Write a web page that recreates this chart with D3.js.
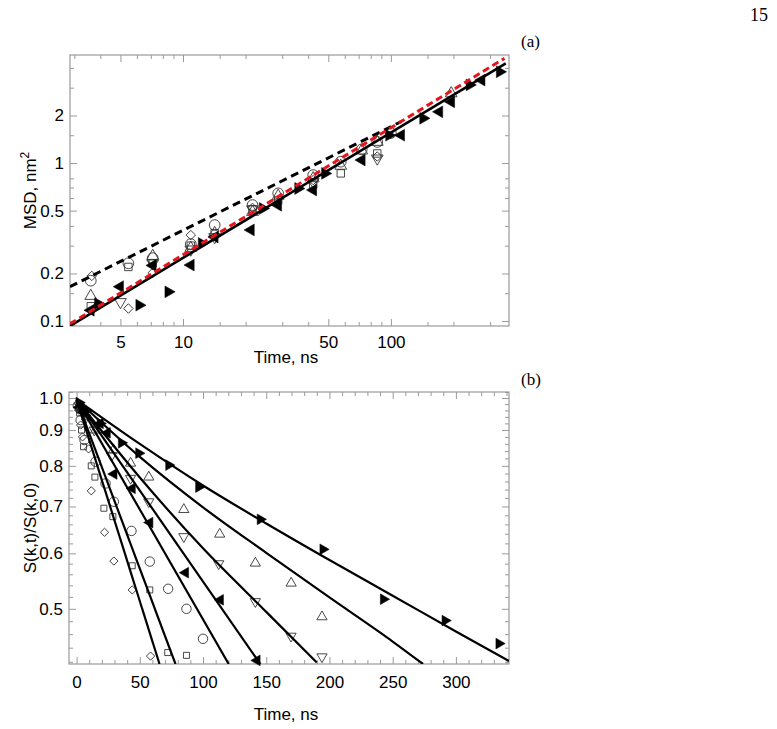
<!DOCTYPE html>
<html>
<head>
<meta charset="utf-8">
<script src="https://cdn.jsdelivr.net/npm/d3@7"></script>
<style>
  body { margin: 0; background: #fff; }
  text { font-family: Arial, "Liberation Sans", Helvetica, sans-serif; }
  .serif { font-family: "Liberation Serif", "DejaVu Serif", serif; }
</style>
</head>
<body>
<div id="chart"></div>
<script>
// ---------- panel (a): MSD vs time (log-log) ----------
const msdCircle = [[3.6, 0.18], [5.46, 0.232], [7.15, 0.25], [10.9, 0.307], [14.2, 0.405], [21.6, 0.542], [28.7, 0.643], [42.3, 0.839], [57.4, 1.02], [72.4, 1.22], [86, 1.36], [100, 1.55]]
const msdUp = [[3.6, 0.144], [7.15, 0.258], [10.9, 0.29], [14.2, 0.36], [21.6, 0.49], [28.7, 0.62], [42.3, 0.8], [57.4, 0.96], [72.4, 1.2], [86, 1.36], [195, 2.76]]
const msdDown = [[5, 0.132], [7.15, 0.232], [10.9, 0.284], [14.2, 0.34], [21.6, 0.51], [42.3, 0.76], [86, 1.07]]
const msdSquare = [[3.6, 0.124], [5.46, 0.22], [7.15, 0.232], [10.9, 0.3], [14.2, 0.36], [21.6, 0.51], [28.7, 0.58], [42.3, 0.73], [57.4, 0.86], [86, 1.15]]
const msdDiamond = [[3.64, 0.193], [5.46, 0.12], [7.15, 0.202], [10.9, 0.35], [21.6, 0.52], [42.3, 0.78], [86, 1.1]]
const msdLeft = [[3.6, 0.117], [4.98, 0.165], [7.15, 0.225], [10.9, 0.226], [14.2, 0.34], [21.2, 0.377], [28.7, 0.54], [42.3, 0.675], [72.4, 1.045], [112, 1.5], [171, 2.11], [195, 2.44], [273, 3.35]]
const msdRight = [[3.9, 0.129], [6.16, 0.126], [8.5, 0.153], [12.3, 0.31], [24.2, 0.516], [35.8, 0.69], [48.2, 0.86], [98, 1.5], [143, 1.92], [239, 3.12], [334, 3.78]]

// fitted lines, end points
const msdFitShort = [[2.86, 0.165], [112, 1.83]]
const msdFitLong = [[2.86, 0.093], [357, 4.28]]
const msdFitRed = [[2.86, 0.096], [352, 4.6]]

const msdXTicks = [3, 4, 5, 6, 7, 8, 9, 10, 15, 20, 30, 40, 50, 60, 70, 80, 90, 100, 150, 200, 300]
const msdXLabels = [5, 10, 50, 100]
const msdYTicks = [0.1, 0.15, 0.2, 0.3, 0.4, 0.5, 0.6, 0.7, 0.8, 1, 1.5, 2, 3, 4]
const msdYLabels = [0.1, 0.2, 0.5, 1, 2]

// ---------- panel (b): S(k,t)/S(k,0) vs time (log y) ----------
const skDiamond = [[1.6, 0.961], [3.2, 0.915], [4.7, 0.88], [9.5, 0.846], [11.6, 0.737], [22.1, 0.643], [29.5, 0.585], [44, 0.532], [58.5, 0.428]]
const skSquare = [[1.5, 0.97], [2.4, 0.952], [3.9, 0.9], [5.5, 0.852], [11.6, 0.8], [14.5, 0.771], [21.6, 0.696], [28.7, 0.677], [44, 0.576], [57.9, 0.532], [72.1, 0.433], [86.9, 0.429]]
const skCircle = [[1, 0.975], [3.2, 0.93], [6.3, 0.871], [15, 0.811], [22.9, 0.755], [29.5, 0.711], [43.4, 0.646], [57.9, 0.584], [72.4, 0.534], [86.9, 0.5], [100, 0.453]]
const skLeft = [[2, 0.97], [4.7, 0.955], [18.7, 0.92], [24.2, 0.892], [29.5, 0.779], [44, 0.743], [57.9, 0.664], [86.1, 0.563], [113.7, 0.515], [142.7, 0.422]]
const skDown = [[2, 0.975], [7.1, 0.936], [14, 0.9], [27.6, 0.827], [42.7, 0.768], [57.1, 0.711], [84.8, 0.634], [112.4, 0.58], [141.4, 0.512], [169.6, 0.457], [194.1, 0.427]]
const skUp = [[3, 0.97], [8, 0.94], [15, 0.9], [29.2, 0.843], [42.7, 0.807], [57.1, 0.771], [84.8, 0.693], [113.2, 0.639], [141.4, 0.581], [169.7, 0.544], [194.1, 0.487]]
const skRight = [[2, 0.985], [8, 0.96], [18.7, 0.92], [35.5, 0.863], [49.2, 0.834], [72.9, 0.802], [96.6, 0.746], [145.3, 0.671], [194.9, 0.608], [242.7, 0.516], [291.5, 0.481], [334.1, 0.446]]

const skFits = [
  [[0, 0.995], [65.6, 0.417]],
  [[0, 0.995], [78.2, 0.417]],
  [[0, 0.995], [120.3, 0.417]],
  [[0, 0.995], [145.3, 0.417]],
  [[0, 0.995], [50, 0.77], [100, 0.61], [150, 0.495], [190, 0.419]],
  [[0, 0.995], [50, 0.824], [100, 0.698], [150, 0.601], [200, 0.519], [250, 0.449], [274, 0.417]],
  [[0, 0.995], [50, 0.86], [100, 0.75], [150, 0.662], [200, 0.587], [250, 0.522], [300, 0.464], [342, 0.421]]
]

const skXTicks = d3.range(0, 341, 10)
const skXLabels = [0, 50, 100, 150, 200, 250, 300]
const skYTicks = d3.range(42, 103, 2).map(d => d / 100)
const skYLabels = [0.5, 0.6, 0.7, 0.8, 0.9, 1.0]

// ---------- drawing ----------
const svg = d3.select('#chart').append('svg')
  .attr('width', 777)
  .attr('height', 729)

const frameColor = '#9a9a9a'

const markers = {
  circle: { type: d3.symbolCircle, rot: 0, fill: 'none' },
  up: { type: d3.symbolTriangle, rot: 0, fill: 'none' },
  down: { type: d3.symbolTriangle, rot: 180, fill: 'none' },
  square: { type: d3.symbolSquare, rot: 0, fill: 'none' },
  diamond: { type: d3.symbolSquare, rot: 45, fill: 'none' },
  left: { type: d3.symbolTriangle, rot: -90, fill: '#000' },
  right: { type: d3.symbolTriangle, rot: 90, fill: '#000' }
}

function drawFrame (g, x, y, box, o) {
  const minorLen = 4
  const majorLen = 7
  const isMajorX = d => o.xLabels.includes(d)
  const isMajorY = d => o.yLabels.some(v => Math.abs(v - d) < 1e-9)

  // bottom / top
  g.append('g').attr('transform', 'translate(0,' + box.bottom + ')')
    .call(d3.axisBottom(x).tickValues(o.xTicks.filter(d => !isMajorX(d))).tickSize(-minorLen).tickFormat(''))
  g.append('g').attr('transform', 'translate(0,' + box.bottom + ')')
    .call(d3.axisBottom(x).tickValues(o.xLabels).tickSize(-majorLen).tickPadding(o.xPad).tickFormat(o.xFormat))
  g.append('g').attr('transform', 'translate(0,' + box.top + ')')
    .call(d3.axisTop(x).tickValues(o.xTicks.filter(d => !isMajorX(d))).tickSize(-minorLen).tickFormat(''))
  g.append('g').attr('transform', 'translate(0,' + box.top + ')')
    .call(d3.axisTop(x).tickValues(o.xLabels).tickSize(-majorLen).tickFormat(''))

  // left / right
  g.append('g').attr('transform', 'translate(' + box.left + ',0)')
    .call(d3.axisLeft(y).tickValues(o.yTicks.filter(d => !isMajorY(d))).tickSize(-minorLen).tickFormat(''))
  g.append('g').attr('transform', 'translate(' + box.left + ',0)')
    .call(d3.axisLeft(y).tickValues(o.yLabels).tickSize(-majorLen).tickPadding(o.yPad).tickFormat(o.yFormat))
  g.append('g').attr('transform', 'translate(' + box.right + ',0)')
    .call(d3.axisRight(y).tickValues(o.yTicks.filter(d => !isMajorY(d))).tickSize(-minorLen).tickFormat(''))
  g.append('g').attr('transform', 'translate(' + box.right + ',0)')
    .call(d3.axisRight(y).tickValues(o.yLabels).tickSize(-majorLen).tickFormat(''))

  g.selectAll('.domain').remove()
  g.selectAll('.tick line').attr('stroke', frameColor).attr('stroke-width', 1)
  g.selectAll('.tick text')
    .attr('fill', '#000')
    .style('font-size', '17px')
    .style('font-family', 'Arial, "Liberation Sans", sans-serif')

  g.append('rect')
    .attr('x', box.left)
    .attr('y', box.top)
    .attr('width', box.right - box.left)
    .attr('height', box.bottom - box.top)
    .attr('fill', 'none')
    .attr('stroke', frameColor)
    .attr('stroke-width', 1.2)
}

function drawPoints (g, x, y, data, kind, size) {
  const m = markers[kind]
  g.append('g').selectAll('path')
    .data(data)
    .enter().append('path')
    .attr('d', d3.symbol().type(m.type).size(size))
    .attr('transform', d => 'translate(' + x(d[0]) + ',' + y(d[1]) + ') rotate(' + m.rot + ')')
    .attr('fill', m.fill)
    .attr('stroke', m.fill === 'none' ? '#333' : '#000')
    .attr('stroke-width', m.fill === 'none' ? 0.9 : 0.5)
}

// ----- panel (a)
const boxA = { left: 70, right: 509, top: 55, bottom: 326 }
const xA = d3.scaleLog().domain([2.86, 370]).range([boxA.left, boxA.right])
const yA = d3.scaleLog().domain([0.093, 4.83]).range([boxA.bottom, boxA.top])
const gA = svg.append('g')

svg.append('clipPath').attr('id', 'clipA').append('rect')
  .attr('x', boxA.left).attr('y', boxA.top)
  .attr('width', boxA.right - boxA.left).attr('height', boxA.bottom - boxA.top)

drawFrame(gA, xA, yA, boxA, {
  xTicks: msdXTicks,
  xLabels: msdXLabels,
  yTicks: msdYTicks,
  yLabels: msdYLabels,
  xPad: 10,
  yPad: 6,
  xFormat: d3.format('d'),
  yFormat: d => String(d)
})

const sizeA = { circle: 90, up: 60, down: 60, square: 55, diamond: 45, left: 60, right: 60 }
drawPoints(gA, xA, yA, msdCircle, 'circle', sizeA.circle)
drawPoints(gA, xA, yA, msdUp, 'up', sizeA.up)
drawPoints(gA, xA, yA, msdDown, 'down', sizeA.down)
drawPoints(gA, xA, yA, msdSquare, 'square', sizeA.square)
drawPoints(gA, xA, yA, msdDiamond, 'diamond', sizeA.diamond)
drawPoints(gA, xA, yA, msdLeft, 'left', sizeA.left)
drawPoints(gA, xA, yA, msdRight, 'right', sizeA.right)

const lineA = d3.line().x(d => xA(d[0])).y(d => yA(d[1]))
const linesA = gA.append('g').attr('clip-path', 'url(#clipA)')
linesA.append('path').attr('d', lineA(msdFitLong))
  .attr('fill', 'none').attr('stroke', '#000').attr('stroke-width', 2.6)
linesA.append('path').attr('d', lineA(msdFitShort))
  .attr('fill', 'none').attr('stroke', '#000').attr('stroke-width', 3).attr('stroke-dasharray', '8,5')
linesA.append('path').attr('d', lineA(msdFitRed))
  .attr('fill', 'none').attr('stroke', '#e8141c').attr('stroke-width', 3).attr('stroke-dasharray', '7,4')

gA.append('text')
  .attr('x', 286).attr('y', 363)
  .attr('text-anchor', 'middle')
  .style('font-size', '17px')
  .text('Time, ns')

const msdLabel = gA.append('text')
  .attr('transform', 'translate(36,' + ((boxA.top + boxA.bottom) / 2) + ') rotate(-90)')
  .attr('text-anchor', 'middle')
  .style('font-size', '17px')
msdLabel.append('tspan').text('MSD, nm')
msdLabel.append('tspan').attr('dy', -7).style('font-size', '12px').text('2')

// ----- panel (b)
const boxB = { left: 69, right: 509, top: 392, bottom: 664 }
const xB = d3.scaleLinear().domain([-6, 342]).range([boxB.left, boxB.right])
const yB = d3.scaleLog().domain([0.417, 1.02]).range([boxB.bottom, boxB.top])
const gB = svg.append('g')

svg.append('clipPath').attr('id', 'clipB').append('rect')
  .attr('x', boxB.left).attr('y', boxB.top)
  .attr('width', boxB.right - boxB.left).attr('height', boxB.bottom - boxB.top)

drawFrame(gB, xB, yB, boxB, {
  xTicks: skXTicks,
  xLabels: skXLabels,
  yTicks: skYTicks,
  yLabels: skYLabels,
  xPad: 12,
  yPad: 6,
  xFormat: d3.format('d'),
  yFormat: d3.format('.1f')
})

const sizeB = { circle: 70, up: 45, down: 45, square: 36, diamond: 34, left: 50, right: 50 }
drawPoints(gB, xB, yB, skDiamond, 'diamond', sizeB.diamond)
drawPoints(gB, xB, yB, skSquare, 'square', sizeB.square)
drawPoints(gB, xB, yB, skCircle, 'circle', sizeB.circle)
drawPoints(gB, xB, yB, skLeft, 'left', sizeB.left)
drawPoints(gB, xB, yB, skDown, 'down', sizeB.down)
drawPoints(gB, xB, yB, skUp, 'up', sizeB.up)
drawPoints(gB, xB, yB, skRight, 'right', sizeB.right)

const lineB = d3.line().x(d => xB(d[0])).y(d => yB(d[1])).curve(d3.curveMonotoneX)
gB.append('g').attr('clip-path', 'url(#clipB)')
  .selectAll('path')
  .data(skFits)
  .enter().append('path')
  .attr('d', lineB)
  .attr('fill', 'none')
  .attr('stroke', '#000')
  .attr('stroke-width', 2.2)

gB.append('text')
  .attr('x', 286).attr('y', 720)
  .attr('text-anchor', 'middle')
  .style('font-size', '17px')
  .text('Time, ns')

gB.append('text')
  .attr('transform', 'translate(36,' + ((boxB.top + boxB.bottom) / 2) + ') rotate(-90)')
  .attr('text-anchor', 'middle')
  .style('font-size', '17px')
  .text('S(k,t)/S(k,0)')

// page number and panel tags
svg.append('text').attr('class', 'serif')
  .attr('x', 768).attr('y', 21).attr('text-anchor', 'end')
  .style('font-size', '18px').text('15')
svg.append('text').attr('class', 'serif')
  .attr('x', 521).attr('y', 47)
  .style('font-size', '17px').text('(a)')
svg.append('text').attr('class', 'serif')
  .attr('x', 521).attr('y', 385)
  .style('font-size', '17px').text('(b)')
</script>
</body>
</html>
